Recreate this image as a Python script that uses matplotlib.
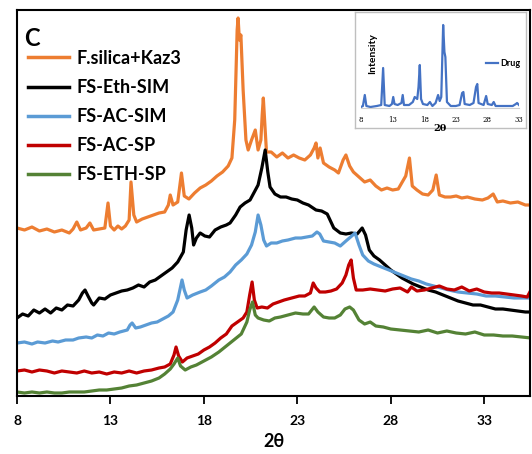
import matplotlib
matplotlib.use("Agg")
import matplotlib.pyplot as plt
import numpy as np

plt.rcParams['font.family'] = ['Lato', 'DejaVu Sans']

# ---------------- data ----------------
orange_x = [8.0, 8.4, 8.8, 9.2, 9.6, 10.0, 10.4, 10.8, 11.0, 11.2, 11.4, 11.7, 11.9, 12.1, 12.4, 12.7, 12.87, 13.0,
            13.2, 13.4, 13.6, 13.8, 14.0, 14.1, 14.25, 14.4, 14.7, 15.0, 15.3, 15.6, 15.9, 16.1, 16.2, 16.35, 16.6,
            16.8, 16.95, 17.2, 17.5, 17.8, 18.1, 18.4, 18.7, 19.0, 19.3, 19.5, 19.65, 19.78, 19.83, 19.9, 19.98,
            20.1, 20.25, 20.37, 20.55, 20.75, 20.9, 21.05, 21.12, 21.18, 21.28, 21.35, 21.6, 21.9, 22.2, 22.5, 22.8,
            23.1, 23.4, 23.7, 23.9, 24.0, 24.1, 24.22, 24.4, 24.7, 25.0, 25.2, 25.45, 25.6, 25.8, 26.0, 26.3, 26.6,
            26.9, 27.2, 27.5, 27.8, 28.1, 28.4, 28.8, 29.0, 29.15, 29.4, 29.7, 30.0, 30.25, 30.43, 30.6, 30.9, 31.2,
            31.5, 31.8, 32.1, 32.5, 32.9, 33.2, 33.48, 33.7, 34.0, 34.4, 34.8, 35.2, 35.5]
orange_y = [168, 166, 169, 165, 167, 164, 166, 163, 167, 174, 166, 168, 173, 166, 167, 168, 193, 170,
            166, 170, 167, 170, 176, 214, 181, 174, 177, 179, 181, 183, 184, 191, 201, 191, 194,
            223, 200, 197, 203, 208, 211, 215, 220, 224, 230, 238, 276, 366, 378, 356, 361,
            306, 256, 246, 256, 266, 246, 256, 281, 298, 266, 244, 244, 239, 243, 238, 241,
            238, 236, 241, 248, 253, 238, 248, 233, 229, 226, 223, 236, 241, 230, 224, 219, 214,
            216, 210, 206, 208, 206, 207, 220, 238, 210, 206, 202, 201, 206, 221, 201, 199, 199,
            200, 198, 199, 197, 196, 198, 202, 194, 195, 193, 194, 191, 191]

black_x = [8.0, 8.3, 8.6, 8.9, 9.2, 9.5, 9.8, 10.1, 10.4, 10.7, 11.0, 11.3, 11.5, 11.64, 11.8, 12.0, 12.1, 12.4,
           12.7, 13.0, 13.3, 13.6, 13.9, 14.2, 14.5, 14.8, 15.1, 15.4, 15.7, 16.0, 16.3, 16.6, 16.9, 17.05, 17.21,
           17.35, 17.45, 17.6, 17.8, 18.05, 18.3, 18.6, 18.9, 19.2, 19.4, 19.7, 19.94, 20.2, 20.47, 20.7, 20.9,
           21.1, 21.28, 21.42, 21.54, 21.8, 22.1, 22.4, 22.7, 23.0, 23.3, 23.6, 24.0, 24.3, 24.6, 24.8, 24.95,
           25.3, 25.6, 25.9, 26.2, 26.47, 26.65, 26.85, 27.1, 27.4, 27.7, 28.0, 28.3, 28.6, 28.9, 29.2, 29.6,
           30.0, 30.4, 30.8, 31.2, 31.6, 32.0, 32.4, 32.8, 33.2, 33.6, 34.0, 34.4, 34.8, 35.2, 35.5]
black_y = [78, 82, 80, 86, 83, 87, 83, 88, 86, 91, 90, 96, 103, 106, 100, 93, 91, 98,
           97, 101, 103, 105, 106, 108, 111, 109, 114, 116, 120, 124, 128, 134, 144, 166, 181,
           168, 151, 158, 163, 160, 159, 166, 169, 171, 173, 181, 189, 193, 196, 204, 211,
           228, 246, 224, 209, 202, 199, 199, 197, 196, 193, 191, 186, 185, 182, 174, 168,
           163, 162, 163, 162, 168, 161, 146, 140, 136, 131, 126, 122, 118, 115, 112, 109,
           106, 104, 101, 98, 95, 93, 91, 91, 89, 87, 87, 86, 85, 84, 84]

blue_x = [8.0, 8.4, 8.8, 9.1, 9.5, 9.9, 10.2, 10.6, 11.0, 11.3, 11.7, 12.0, 12.3, 12.6, 12.9, 13.2, 13.5, 13.9,
          14.05, 14.16, 14.35, 14.6, 14.9, 15.2, 15.5, 15.8, 16.1, 16.35, 16.6, 16.83, 16.95, 17.1, 17.4, 17.8,
          18.1, 18.4, 18.8, 19.1, 19.4, 19.7, 20.0, 20.3, 20.55, 20.75, 20.9, 21.05, 21.2, 21.35, 21.6, 21.9,
          22.2, 22.5, 22.9, 23.2, 23.5, 23.8, 24.05, 24.2, 24.4, 24.7, 25.0, 25.3, 25.6, 25.85, 26.09, 26.3,
          26.5, 26.8, 27.1, 27.5, 27.9, 28.3, 28.7, 29.1, 29.5, 29.9, 30.3, 30.7, 31.1, 31.6, 32.1, 32.6, 33.1,
          33.6, 34.1, 34.6, 35.1, 35.5]
blue_y = [53, 54, 52, 54, 53, 55, 54, 56, 56, 58, 59, 58, 61, 60, 63, 62, 64, 66,
          71, 73, 68, 69, 71, 73, 74, 77, 80, 84, 96, 116, 106, 98, 101, 104,
          106, 110, 116, 119, 124, 131, 136, 142, 151, 164, 181, 171, 156, 150, 153, 153,
          155, 156, 158, 158, 159, 160, 164, 162, 155, 154, 153, 150, 155, 159, 163, 151,
          141, 135, 132, 129, 126, 123, 120, 117, 115, 112, 110, 108, 106, 104, 103, 102, 100,
          100, 99, 98, 98, 98]

red_x = [8.0, 8.4, 8.8, 9.2, 9.6, 10.0, 10.4, 10.8, 11.2, 11.6, 12.0, 12.4, 12.8, 13.2, 13.6, 14.0, 14.4, 14.8,
         15.2, 15.6, 15.9, 16.2, 16.4, 16.51, 16.65, 16.85, 17.1, 17.4, 17.7, 18.0, 18.3, 18.6, 18.9, 19.2,
         19.5, 19.8, 20.1, 20.3, 20.45, 20.58, 20.7, 20.85, 21.1, 21.4, 21.7, 22.0, 22.3, 22.7, 23.1, 23.4,
         23.7, 23.85, 24.0, 24.2, 24.5, 24.8, 25.1, 25.4, 25.6, 25.75, 25.88, 26.0, 26.15, 26.5, 26.9, 27.3,
         27.7, 28.1, 28.5, 28.9, 29.1, 29.4, 29.8, 30.2, 30.6, 31.0, 31.4, 31.8, 32.2, 32.6, 33.0, 33.4, 33.8,
         34.2, 34.6, 35.0, 35.3, 35.5]
red_y = [25, 26, 24, 26, 25, 23, 25, 24, 23, 25, 23, 24, 22, 24, 23, 25, 23, 25,
         26, 28, 29, 32, 41, 49, 40, 34, 38, 40, 42, 46, 49, 53, 58, 62,
         70, 74, 78, 84, 101, 114, 96, 88, 89, 88, 92, 94, 96, 98, 100, 100,
         103, 113, 108, 104, 104, 105, 107, 113, 121, 131, 136, 118, 106, 106, 107, 106,
         105, 107, 108, 104, 109, 105, 106, 108, 110, 107, 106, 109, 105, 107, 104, 103, 103,
         102, 101, 100, 99, 106]

green_x = [8.0, 8.4, 8.8, 9.2, 9.6, 10.0, 10.4, 10.8, 11.2, 11.6, 12.0, 12.4, 12.8, 13.2, 13.6, 14.0, 14.4, 14.8,
           15.2, 15.6, 15.9, 16.2, 16.4, 16.6, 16.75, 17.0, 17.3, 17.6, 18.0, 18.4, 18.8, 19.2, 19.6, 20.0,
           20.3, 20.45, 20.6, 20.75, 20.9, 21.2, 21.5, 21.8, 22.1, 22.5, 22.9, 23.3, 23.6, 23.9, 24.1, 24.4,
           24.7, 25.0, 25.3, 25.55, 25.8, 26.0, 26.3, 26.6, 26.9, 27.2, 27.6, 28.0, 28.5, 29.0, 29.5, 30.0,
           30.5, 31.0, 31.5, 32.0, 32.5, 33.0, 33.5, 34.0, 34.5, 35.0, 35.5]
green_y = [4, 3, 4, 3, 4, 3, 3, 4, 4, 4, 5, 6, 6, 7, 8, 10, 11, 13,
           15, 18, 22, 27, 32, 38, 30, 26, 29, 31, 35, 39, 44, 50, 56, 62,
           74, 86, 94, 81, 78, 76, 75, 78, 79, 81, 83, 82, 82, 89, 84, 79,
           78, 78, 81, 87, 89, 86, 76, 72, 74, 70, 69, 67, 66, 65, 64, 66,
           63, 65, 63, 62, 64, 61, 61, 60, 60, 59, 58]

drug_x = [8.0, 8.3, 8.6, 8.85, 9.5, 10.5, 11.2, 11.5, 11.75, 12.5, 12.9, 13.1, 13.3, 13.8, 14.4, 14.6, 14.8,
          15.6, 16.2, 16.5, 16.9, 17.1, 17.3, 17.5, 17.8, 18.5, 18.9, 19.3, 19.8, 20.2, 20.45, 20.7, 21.0,
          21.2, 21.35, 21.6, 22.2, 23.0, 23.6, 24.0, 24.2, 24.4, 25.2, 25.8, 26.2, 26.4, 26.6, 27.4, 27.8,
          28.05, 28.7, 29.0, 29.3, 30.0, 31.0, 32.0, 32.5, 32.7, 33.0]
drug_y = [0, 1, 12, 1, 0, 1, 2, 39, 2, 1, 3, 10, 3, 2, 4, 12, 2,
          2, 5, 10, 8, 20, 42, 8, 3, 2, 5, 1, 4, 12, 6, 10, 82,
          55, 50, 5, 1, 1, 2, 14, 15, 3, 2, 4, 20, 23, 4, 2, 11,
          3, 2, 5, 1, 1, 1, 1, 3, 4, 2]

series_labels = ["F.silica+Kaz3", "FS-Eth-SIM", "FS-AC-SIM", "FS-AC-SP", "FS-ETH-SP"]
series_colors = ["#ED7D31", "#000000", "#5B9BD5", "#C00000", "#548235"]
xticks = [8, 13, 18, 23, 28, 33]
inset_xticks = [8, 13, 18, 23, 28, 33]

# ---------------- figure ----------------
W, H = 532, 454
fig = plt.figure(figsize=(W / 100, H / 100), dpi=100)

def px_axes(l, t, r, b):
    return [l / W, 1 - b / H, (r - l) / W, (b - t) / H]

ax = fig.add_axes(px_axes(17, 10, 530, 396))
xs = [orange_x, black_x, blue_x, red_x, green_x]
ys = [orange_y, black_y, blue_y, red_y, green_y]
for x, y, c, lab in zip(xs, ys, series_colors, series_labels):
    ax.plot(x, y, color=c, lw=2.3, label=lab, solid_joinstyle='round')

ax.set_xlim(8, 35.45)
ax.set_ylim(0, 386)
ax.set_yticks([])
ax.set_xticks(xticks)
ax.set_xticklabels([str(t) for t in xticks], fontsize=10, fontweight='bold')
ax.tick_params(axis='x', direction='out', length=6, width=1.3, pad=8)
for s in ax.spines.values():
    s.set_linewidth(1.5)
ax.set_xlabel("2θ", fontsize=13, fontweight='bold', labelpad=4)

ax.text(0.014, 0.955, "C", transform=ax.transAxes, fontsize=17, fontweight='bold',
        va='top', ha='left')

leg = ax.legend(loc='upper left', bbox_to_anchor=(0.0, 0.925), frameon=False,
                fontsize=13, handlelength=2.3, handletextpad=0.4, labelspacing=0.67,
                borderpad=0.3, borderaxespad=0.3)
for t in leg.get_texts():
    t.set_fontweight('bold')
for h in leg.get_lines():
    h.set_linewidth(2.5)

# ---------------- inset ----------------
frame = fig.add_axes(px_axes(355, 12, 526, 128))
frame.set_xticks([]); frame.set_yticks([])
for s in frame.spines.values():
    s.set_color('#bfbfbf'); s.set_linewidth(1.0)
frame.set_facecolor('white')

ins = fig.add_axes(px_axes(361, 20, 519, 108))
ins.plot(drug_x, drug_y, color='#4472C4', lw=1.6, label='Drug')
ins.set_xlim(8, 33)
ins.set_ylim(-1, 87)
ins.set_yticks([])
ins.set_xticks(inset_xticks)
ins.set_xticklabels([str(t) for t in inset_xticks], fontsize=5, family='DejaVu Serif')
ins.tick_params(axis='x', length=0, pad=6)
for k in ['top', 'right', 'left']:
    ins.spines[k].set_visible(False)
ins.spines['bottom'].set_color('#d0d0d0')
ins.spines['bottom'].set_linewidth(0.8)
ins.patch.set_alpha(0)
ins.set_xlabel("2θ", fontsize=7, fontweight='bold', family='DejaVu Serif', labelpad=0)
ins.set_ylabel("Intensity", fontsize=7.5, fontweight='bold')
ins.yaxis.set_label_coords(0.1, 0.62)
il = ins.legend(loc='upper right', bbox_to_anchor=(1.04, 0.62), frameon=False, fontsize=6.5,
                handlelength=1.4, handletextpad=0.15, borderpad=0.1)
for t in il.get_texts():
    t.set_fontweight('bold')

fig.savefig("out.png", dpi=100)
